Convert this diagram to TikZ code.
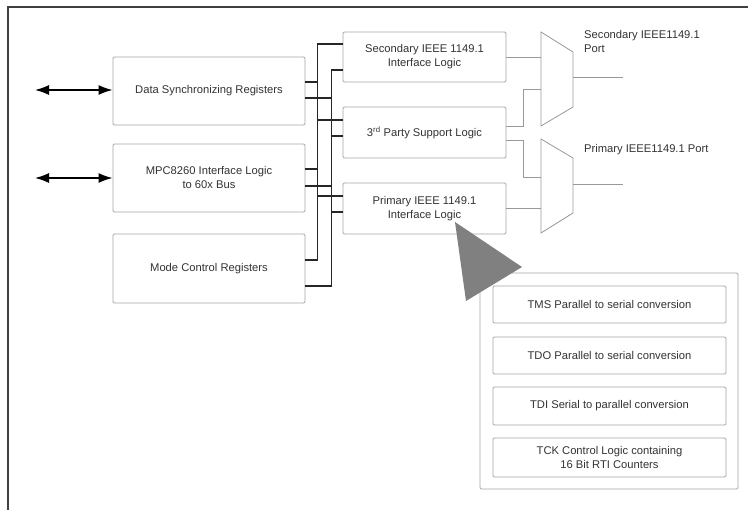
\documentclass[tikz,border=0pt]{standalone}
\usepackage{fontspec}
\setmainfont{Liberation Sans}
\usetikzlibrary{calc,arrows.meta}
\begin{document}
\begin{tikzpicture}[x=1pt,y=-1pt,
  blk/.style={draw=black!35,line width=0.9pt,rounded corners=1.2pt,align=center,
    text=black!80,font=\fontsize{11.2}{14}\selectfont,inner sep=0pt},
  bus/.style={draw=black!85,line width=1.3pt},
  wire/.style={draw=black!40,line width=0.8pt},
  dbl/.style={draw=black,line width=1.4pt,{Latex[length=14pt,width=10pt]}-{Latex[length=14pt,width=10pt]}},
  lbl/.style={text=black!80,font=\fontsize{11.2}{14}\selectfont,inner sep=0pt,align=left}]
\useasboundingbox (0,0) rectangle (748,510);
\fill[white] (0,0) rectangle (748,510);
% frame
\coordinate (fTR) at (748,7);
\coordinate (fTL) at (8,7);
\coordinate (fBL) at (8,510);
\draw[black!75,line width=1.4pt] (fTR) -- (fTL) -- (fBL);
% left boxes
\node[blk,minimum width=192,minimum height=68] (ds) at (209,91) {Data Synchronizing Registers};
\node[blk,minimum width=192,minimum height=68] (mpc) at (209,178) {MPC8260 Interface Logic\\to 60x Bus};
\node[blk,minimum width=192,minimum height=69] (mcr) at (209,268.5) {Mode Control Registers};
% middle boxes
\node[blk,minimum width=163,minimum height=50] (sec) at (424.5,57) {Secondary IEEE 1149.1\\Interface Logic};
\node[blk,minimum width=163,minimum height=51] (third) at (424.5,132.5) {3\textsuperscript{rd} Party Support Logic};
\node[blk,minimum width=163,minimum height=51] (prim) at (424.5,208.5) {Primary IEEE 1149.1\\Interface Logic};
% lower right group
\node[blk,minimum width=258,minimum height=216] (grp) at (609,381) {};
\node[blk,minimum width=233,minimum height=37] (tms) at (609.5,304.5) {TMS Parallel to serial conversion};
\node[blk,minimum width=233,minimum height=37] (tdo) at (609.5,355.5) {TDO Parallel to serial conversion};
\node[blk,minimum width=233,minimum height=38] (tdi) at (609.5,406) {TDI Serial to parallel conversion};
\node[blk,minimum width=233,minimum height=39] (tck) at (609.5,457.5) {TCK Control Logic containing\\16 Bit RTI Counters};
% external arrows
\coordinate (e1) at (35,90);
\coordinate (e2) at (35,178);
\draw[dbl] (e1) -- (ds.west |- e1);
\draw[dbl] (e2) -- (mpc.west |- e2);
% buses
\draw[bus] ($(sec.west)+(0,-13)$) -| ($(mcr.east)+(12,-8.5)$) -- ($(mcr.east)+(0,-8.5)$);
\draw[bus] ($(sec.west)+(0,13)$) -| ($(mcr.east)+(26,17.5)$) -- ($(mcr.east)+(0,17.5)$);
\draw[bus] ($(ds.east)+(0,-9)$) -- ++(12,0);
\draw[bus] ($(ds.east)+(0,7)$) -- ++(26,0);
\draw[bus] ($(mpc.east)+(0,-9)$) -- ++(12,0);
\draw[bus] ($(mpc.east)+(0,8)$) -- ++(26,0);
\draw[bus] ($(third.west)+(-26,-12.5)$) -- ($(third.west)+(0,-12.5)$);
\draw[bus] ($(third.west)+(-12,3.5)$) -- ($(third.west)+(0,3.5)$);
\draw[bus] ($(prim.west)+(-26,-12.5)$) -- ($(prim.west)+(0,-12.5)$);
\draw[bus] ($(prim.west)+(-12,3.5)$) -- ($(prim.west)+(0,3.5)$);
% muxes
\draw[wire] (541,32) -- (573,52) -- (573,107) -- (541,126) -- cycle;
\draw[wire] (541,139) -- (573,158) -- (573,213) -- (541,233) -- cycle;
\coordinate (m1a) at (541,57);
\coordinate (m1b) at (541,89);
\coordinate (m1o) at (573,77);
\coordinate (p1) at (623,77);
\coordinate (m2a) at (541,177);
\coordinate (m2b) at (541,208.5);
\coordinate (m2o) at (573,184);
\coordinate (p2) at (623,184);
\draw[wire] (sec.east) -- (m1a);
\draw[wire] ($(third.east)+(0,-6.5)$) -| ($(m1b)+(-18,0)$) -- (m1b);
\draw[wire] ($(third.east)+(0,7.5)$) -| ($(m2a)+(-18,0)$) -- (m2a);
\draw[wire] (prim.east) -- (m2b);
\draw[wire] (m1o) -- (p1);
\draw[wire] (m2o) -- (p2);
\node[lbl,anchor=west] (l1) at (584,42) {Secondary IEEE1149.1\\Port};
\node[lbl,anchor=west] (l2) at (584,150) {Primary IEEE1149.1 Port};
% callout triangle
\fill[black!50] (455,222) -- (522,267) -- (466,301) -- cycle;
\end{tikzpicture}
\end{document}
